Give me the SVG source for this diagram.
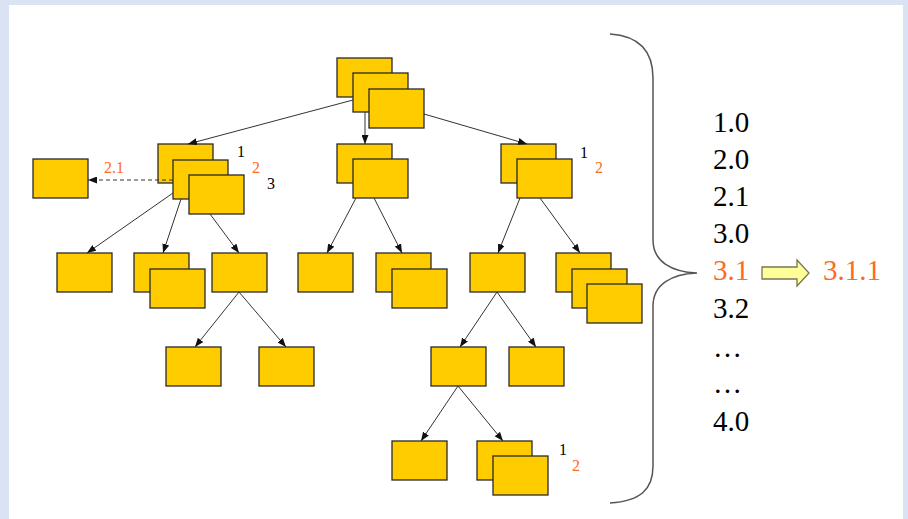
<svg xmlns="http://www.w3.org/2000/svg" width="908" height="519" viewBox="0 0 908 519">
<style>
.b{fill:#ffcc00;stroke:#2a2a2a;stroke-width:1.3}
.c{stroke:#333;stroke-width:1;fill:none}
.t{font-family:"Liberation Serif","Times New Roman",serif;font-size:29px;fill:#000}
.s{font-family:"Liberation Serif","Times New Roman",serif;font-size:16px;fill:#000}
.o{fill:#ff6a21}
</style>
<defs>
<marker id="ah" markerUnits="userSpaceOnUse" markerWidth="9" markerHeight="7" refX="9" refY="3.5" orient="auto"><path d="M0,0 L9,3.5 L0,7 z" fill="#111"/></marker>
</defs>
<rect x="0" y="0" width="908" height="519" fill="#dae3f3"/>
<rect x="9" y="5" width="894" height="514" fill="#ffffff"/>
<g id="nodes">
<g id="n-top"><rect class="b" x="337" y="58" width="55" height="39"/><rect class="b" x="353" y="73" width="55" height="39"/><rect class="b" x="369" y="89" width="55" height="39"/></g>
<g id="n-left-single"><rect class="b" x="33" y="159" width="55" height="39"/></g>
<g id="n-left"><rect class="b" x="158" y="144" width="55" height="39"/><rect class="b" x="173" y="160" width="55" height="39"/><rect class="b" x="189" y="175" width="55" height="39"/></g>
<g id="n-mid"><rect class="b" x="337" y="144" width="55" height="39"/><rect class="b" x="353" y="159" width="55" height="39"/></g>
<g id="n-right"><rect class="b" x="501" y="144" width="55" height="39"/><rect class="b" x="517" y="159" width="55" height="39"/></g>
<g id="n-a"><rect class="b" x="57" y="253" width="55" height="39"/></g>
<g id="n-b"><rect class="b" x="134" y="253" width="55" height="39"/><rect class="b" x="150" y="269" width="55" height="39"/></g>
<g id="n-c"><rect class="b" x="212" y="253" width="55" height="39"/></g>
<g id="n-d"><rect class="b" x="166" y="347" width="55" height="39"/></g>
<g id="n-e"><rect class="b" x="259" y="347" width="55" height="39"/></g>
<g id="n-m1"><rect class="b" x="298" y="253" width="55" height="39"/></g>
<g id="n-f"><rect class="b" x="376" y="253" width="55" height="39"/><rect class="b" x="392" y="269" width="55" height="39"/></g>
<g id="n-g"><rect class="b" x="470" y="253" width="55" height="39"/></g>
<g id="n-h"><rect class="b" x="556" y="253" width="55" height="39"/><rect class="b" x="572" y="269" width="55" height="39"/><rect class="b" x="587" y="284" width="55" height="39"/></g>
<g id="n-i"><rect class="b" x="431" y="347" width="55" height="39"/></g>
<g id="n-j"><rect class="b" x="509" y="347" width="55" height="39"/></g>
<g id="n-k"><rect class="b" x="392" y="441" width="55" height="39"/></g>
<g id="n-l"><rect class="b" x="477" y="441" width="55" height="39"/><rect class="b" x="493" y="456" width="55" height="39"/></g>
</g>
<g id="connectors" marker-end="url(#ah)">
<line class="c" x1="353" y1="100" x2="188" y2="144"/>
<line class="c" x1="365" y1="112" x2="365" y2="144"/>
<line class="c" x1="424" y1="114" x2="527" y2="144"/>
<line class="c" x1="173" y1="180" x2="88" y2="180" stroke-dasharray="4,3"/>
<line class="c" x1="173" y1="193" x2="87" y2="253"/>
<line class="c" x1="181" y1="199" x2="163" y2="253"/>
<line class="c" x1="210" y1="214" x2="239" y2="253"/>
<line class="c" x1="239" y1="292" x2="195" y2="347"/>
<line class="c" x1="239" y1="292" x2="286" y2="347"/>
<line class="c" x1="356" y1="198" x2="327" y2="253"/>
<line class="c" x1="374" y1="198" x2="402" y2="253"/>
<line class="c" x1="520" y1="198" x2="498" y2="253"/>
<line class="c" x1="540" y1="198" x2="580" y2="253"/>
<line class="c" x1="497" y1="292" x2="460" y2="347"/>
<line class="c" x1="497" y1="292" x2="536" y2="347"/>
<line class="c" x1="458" y1="386" x2="421" y2="441"/>
<line class="c" x1="458" y1="386" x2="503" y2="441"/>
</g>
<g id="labels">
<text class="s o" x="104" y="173">2.1</text>
<text class="s" x="237" y="157">1</text>
<text class="s o" x="252" y="173">2</text>
<text class="s" x="267" y="189">3</text>
<text class="s" x="580" y="158">1</text>
<text class="s o" x="595" y="173">2</text>
<text class="s" x="559" y="455">1</text>
<text class="s o" x="572" y="471">2</text>
</g>
<path id="brace" d="M610,34 C640,36 653,52 653,78 L653,240 C653,262 672,272 697,273 C672,274 653,284 653,306 L653,466 C653,490 640,501 610,503" fill="none" stroke="#555" stroke-width="1.5"/>
<g id="list">
<text class="t" x="713" y="132">1.0</text>
<text class="t" x="713" y="169">2.0</text>
<text class="t" x="713" y="206">2.1</text>
<text class="t" x="713" y="243">3.0</text>
<text class="t o" x="713" y="280">3.1</text>
<text class="t" x="713" y="318">3.2</text>
<text class="t" x="713" y="357">…</text>
<text class="t" x="713" y="393">…</text>
<text class="t" x="713" y="431">4.0</text>
<text class="t o" x="823" y="280">3.1.1</text>
</g>
<path id="bigarrow" d="M762,267 L797,267 L797,260 L809,273 L797,286 L797,279 L762,279 z" fill="#ffff99" stroke="#777755" stroke-width="1.3"/>
</svg>
